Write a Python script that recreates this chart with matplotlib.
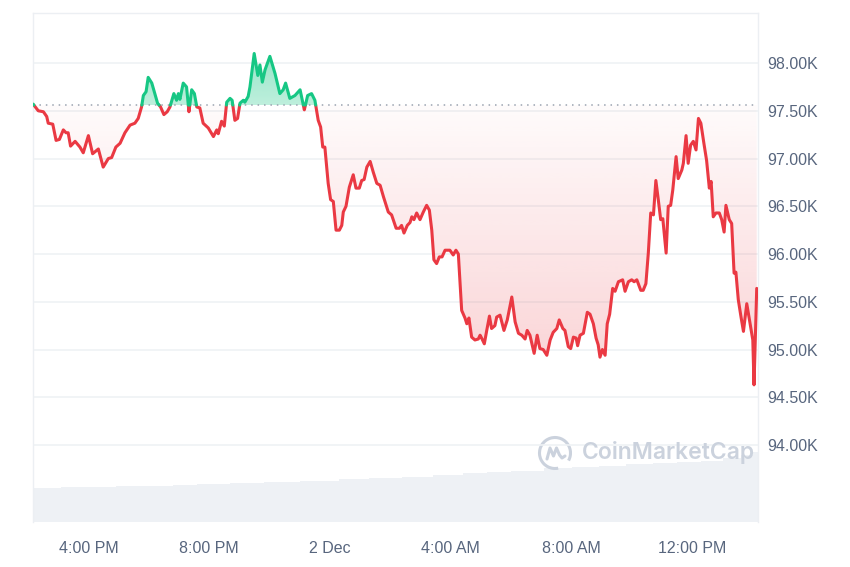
import numpy as np
import matplotlib
matplotlib.use("Agg")
import matplotlib.pyplot as plt
from matplotlib.path import Path
from matplotlib.patches import Arc
from matplotlib.lines import Line2D
from matplotlib.colors import to_rgb

# ---------------- data ----------------
# hours relative to 00:00 on 2 Dec (negative = 1 Dec afternoon/evening)
hours = [
    -9.83, -9.66, -9.49, -9.38, -9.33, -9.18, -9.07, -8.96, -8.83, -8.74,
    -8.67, -8.59, -8.44, -8.28, -8.17, -8.00, -7.86, -7.67, -7.51, -7.34,
    -7.23, -7.09, -6.95, -6.79, -6.62, -6.46, -6.35, -6.24, -6.18, -6.09,
    -6.02, -5.90, -5.80, -5.71, -5.61, -5.50, -5.39, -5.30, -5.17, -5.08,
    -5.02, -4.97, -4.86, -4.75, -4.67, -4.58, -4.49, -4.41, -4.31, -4.20,
    -4.03, -3.86, -3.75, -3.70, -3.59, -3.50, -3.42, -3.31, -3.24, -3.15,
    -3.06, -2.98, -2.87, -2.82, -2.71, -2.65, -2.51, -2.39, -2.32, -2.24,
    -2.15, -1.99, -1.82, -1.66, -1.55, -1.47, -1.33, -1.16, -0.99, -0.85,
    -0.74, -0.61, -0.50, -0.39, -0.31, -0.24, -0.17, -0.06, 0.02, 0.11,
    0.20, 0.31, 0.39, 0.44, 0.53, 0.64, 0.77, 0.86, 0.97, 1.05,
    1.13, 1.22, 1.33, 1.43, 1.55, 1.66, 1.77, 1.93, 2.04, 2.19,
    2.30, 2.37, 2.45, 2.56, 2.65, 2.71, 2.78, 2.87, 2.98, 3.09,
    3.20, 3.29, 3.37, 3.44, 3.53, 3.62, 3.71, 3.81, 3.97, 4.08,
    4.17, 4.25, 4.36, 4.47, 4.53, 4.60, 4.69, 4.80, 4.91, 4.97,
    5.02, 5.11, 5.19, 5.28, 5.35, 5.46, 5.52, 5.63, 5.76, 5.87,
    6.02, 6.13, 6.24, 6.35, 6.46, 6.53, 6.62, 6.76, 6.86, 6.95,
    7.06, 7.18, 7.29, 7.39, 7.51, 7.59, 7.71, 7.78, 7.89, 7.97,
    8.06, 8.15, 8.20, 8.28, 8.39, 8.52, 8.61, 8.72, 8.81, 8.88,
    8.94, 9.02, 9.11, 9.18, 9.26, 9.36, 9.44, 9.55, 9.69, 9.77,
    9.88, 9.99, 10.07, 10.16, 10.29, 10.37, 10.46, 10.54, 10.62, 10.71,
    10.79, 10.87, 10.95, 11.02, 11.13, 11.20, 11.28, 11.35, 11.46, 11.53,
    11.65, 11.70, 11.79, 11.86, 11.94, 12.03, 12.12, 12.20, 12.28, 12.38,
    12.47, 12.56, 12.62, 12.69, 12.78, 12.89, 12.97, 13.05, 13.11, 13.22,
    13.30, 13.38, 13.44, 13.52, 13.61, 13.69, 13.80, 13.91, 14.00, 14.04,
    14.13,
]
# price in thousands of USD
price_k = [
    97.57, 97.50, 97.49, 97.44, 97.37, 97.36, 97.19, 97.20, 97.30, 97.27,
    97.27, 97.13, 97.18, 97.12, 97.06, 97.24, 97.05, 97.10, 96.91, 97.00,
    97.01, 97.12, 97.16, 97.27, 97.35, 97.37, 97.42, 97.54, 97.66, 97.70,
    97.85, 97.79, 97.68, 97.58, 97.54, 97.46, 97.49, 97.54, 97.68, 97.61,
    97.68, 97.62, 97.79, 97.75, 97.49, 97.72, 97.68, 97.54, 97.53, 97.37,
    97.32, 97.23, 97.30, 97.26, 97.39, 97.34, 97.59, 97.63, 97.61, 97.40,
    97.42, 97.58, 97.61, 97.59, 97.65, 97.75, 98.10, 97.87, 97.98, 97.80,
    97.93, 98.07, 97.89, 97.68, 97.72, 97.79, 97.63, 97.66, 97.72, 97.51,
    97.66, 97.68, 97.61, 97.40, 97.33, 97.12, 97.12, 96.74, 96.57, 96.55,
    96.25, 96.25, 96.30, 96.44, 96.50, 96.70, 96.83, 96.69, 96.69, 96.77,
    96.78, 96.91, 96.97, 96.86, 96.74, 96.72, 96.60, 96.44, 96.41, 96.27,
    96.27, 96.30, 96.22, 96.30, 96.33, 96.39, 96.36, 96.43, 96.36, 96.44,
    96.51, 96.46, 96.25, 95.94, 95.90, 95.97, 95.97, 96.04, 96.04, 95.99,
    96.04, 96.00, 95.41, 95.33, 95.27, 95.33, 95.13, 95.10, 95.11, 95.15,
    95.12, 95.06, 95.20, 95.35, 95.22, 95.25, 95.34, 95.36, 95.20, 95.31,
    95.55, 95.29, 95.17, 95.15, 95.11, 95.20, 95.15, 94.96, 95.15, 95.01,
    95.00, 94.94, 95.10, 95.18, 95.22, 95.31, 95.22, 95.20, 95.03, 95.01,
    95.13, 95.12, 95.04, 95.15, 95.17, 95.39, 95.37, 95.27, 95.12, 95.05,
    94.92, 95.00, 94.94, 95.27, 95.37, 95.64, 95.61, 95.71, 95.73, 95.61,
    95.71, 95.73, 95.71, 95.73, 95.62, 95.62, 95.69, 96.01, 96.43, 96.41,
    96.77, 96.57, 96.36, 96.37, 96.01, 96.50, 96.51, 96.67, 97.02, 96.79,
    96.88, 96.95, 97.24, 96.95, 97.14, 97.18, 97.09, 97.42, 97.37, 97.16,
    96.98, 96.69, 96.76, 96.39, 96.43, 96.43, 96.36, 96.23, 96.51, 96.36,
    96.32, 95.80, 95.81, 95.52, 95.34, 95.19, 95.48, 95.27, 95.10, 94.63,
    95.64,
]
baseline_k = 97.56  # opening price of the 24h window

# volume (rolling, arbitrary units)
vol_hours = [-9.83, -8.9, -8.1, -7.1, -6.1, -5.2, -4.4, -3.3, -2.2, -1.0,
             -0.1, 0.3, 1.3, 2.4, 3.4, 4.4, 5.2, 6.0, 7.1, 8.0,
             8.9, 9.8, 10.7, 11.5, 12.3, 13.0, 13.6, 14.0, 14.17]
volume = [34, 34.5, 35, 35.5, 36, 37, 38, 39, 40, 41,
          40.5, 43, 44, 45, 47, 49, 50, 51, 54, 55,
          56, 57.5, 59, 60, 61, 64, 67, 70, 70]

y_ticks = [94.0, 94.5, 95.0, 95.5, 96.0, 96.5, 97.0, 97.5, 98.0]
x_ticks = [-8, -4, 0, 4, 8, 12]
x_labels = ["4:00 PM", "8:00 PM", "2 Dec", "4:00 AM", "8:00 AM", "12:00 PM"]

# ---------------- style ----------------
RED = "#ea3943"
GREEN = "#16c784"
TXT = "#58667e"
GRID = "#eff2f5"
VOL = "#eef1f5"
plt.rcParams["font.family"] = ["Liberation Sans", "DejaVu Sans"]

fig = plt.figure(figsize=(8.5, 5.67), dpi=100, facecolor="white")
ax = fig.add_axes([33 / 850, 45 / 567, 725 / 850, 509 / 567])
vax = ax.twinx()
ax.set_zorder(vax.get_zorder() + 1)
ax.patch.set_visible(False)

# volume
vax.fill_between(vol_hours, volume, 0, step="post", color=VOL, lw=0)
vax.set_xlim(-9.834, 14.172)
vax.set_ylim(0, max(volume) * 7.27)
vax.set_yticks([])
for s in vax.spines.values():
    s.set_visible(False)

h = np.array(hours)
p = np.array(price_k)
b = baseline_k


def split_at(x, y, base):
    xs, ys = [x[0]], [y[0]]
    for i in range(1, len(x)):
        y0, y1 = y[i - 1], y[i]
        if (y0 - base) * (y1 - base) < 0:
            t = (base - y0) / (y1 - y0)
            xs.append(x[i - 1] + t * (x[i] - x[i - 1]))
            ys.append(base)
        xs.append(x[i])
        ys.append(y[i])
    return np.array(xs), np.array(ys)


hx, py = split_at(h, p, b)

below = ax.fill_between(hx, py, b, where=py <= b, facecolor="none", edgecolor="none")
above = ax.fill_between(hx, py, b, where=py >= b, facecolor="none", edgecolor="none")


def gradient(coll, y0, y1, color, a_bottom, a_top):
    paths = coll.get_paths()
    if not paths:
        return
    cp = Path.make_compound_path(*paths)
    n = 256
    arr = np.zeros((n, 1, 4))
    arr[..., :3] = to_rgb(color)
    arr[:, 0, 3] = np.linspace(a_bottom, a_top, n)
    im = ax.imshow(arr, extent=[hx.min(), hx.max(), y0, y1], origin="lower",
                   aspect="auto", interpolation="bilinear", zorder=1.5)
    im.set_clip_path(cp, transform=ax.transData)


gradient(below, p.min(), b, RED, 0.23, 0.02)
gradient(above, b, p.max(), GREEN, 0.28, 0.45)

# dotted baseline
ax.axhline(b, color="#9aa3b0", lw=1.1, ls=(0, (1, 3.2)), zorder=2.5)

# price line split into green / red
g = np.where(py >= b, py, np.nan)
r = np.where(py <= b, py, np.nan)
ax.plot(hx, r, color=RED, lw=2.2, solid_joinstyle="round", solid_capstyle="round", zorder=3)
ax.plot(hx, g, color=GREEN, lw=2.2, solid_joinstyle="round", solid_capstyle="round", zorder=3)

# axes
ax.set_xlim(-9.834, 14.172)
ax.set_ylim(93.194, 98.524)
ax.set_yticks(y_ticks)
ax.set_yticklabels([f"{v:.2f}K" for v in y_ticks])
ax.set_xticks(x_ticks)
ax.set_xticklabels(x_labels)
ax.yaxis.tick_right()
ax.yaxis.grid(True, color=GRID, lw=1.2, zorder=0)
ax.set_axisbelow(True)
ax.tick_params(axis="y", length=0, pad=7, labelsize=11.5, labelcolor=TXT)
ax.tick_params(axis="x", length=0, pad=14, labelsize=11.5, labelcolor=TXT)
for k, s in ax.spines.items():
    s.set_color("#eceff3")
    s.set_linewidth(1)
ax.spines["bottom"].set_visible(False)

# watermark
wm = "#cbd2dd"
cx, cy = 555 / 850, 1 - 453 / 567
fig.add_artist(Arc((cx, cy), 31 / 850, 31 / 567, theta1=-40, theta2=278,
                   transform=fig.transFigure, color=wm, lw=2.2))
mx = np.array([-8, -5, -1.5, 1.5, 4.5, 7, 10]) / 850
my = np.array([-6, 5, -3, 5, -2, -5, -3]) / 567
fig.add_artist(Line2D(cx + mx, cy + my, transform=fig.transFigure, color=wm,
                      lw=2.2, solid_joinstyle="round", solid_capstyle="round"))
fig.text(582 / 850, cy, "CoinMarketCap", fontsize=16.5, color=wm,
         fontweight="semibold", family=["Inter", "DejaVu Sans"], va="center", ha="left")

fig.savefig("out.png", dpi=100, facecolor="white")
